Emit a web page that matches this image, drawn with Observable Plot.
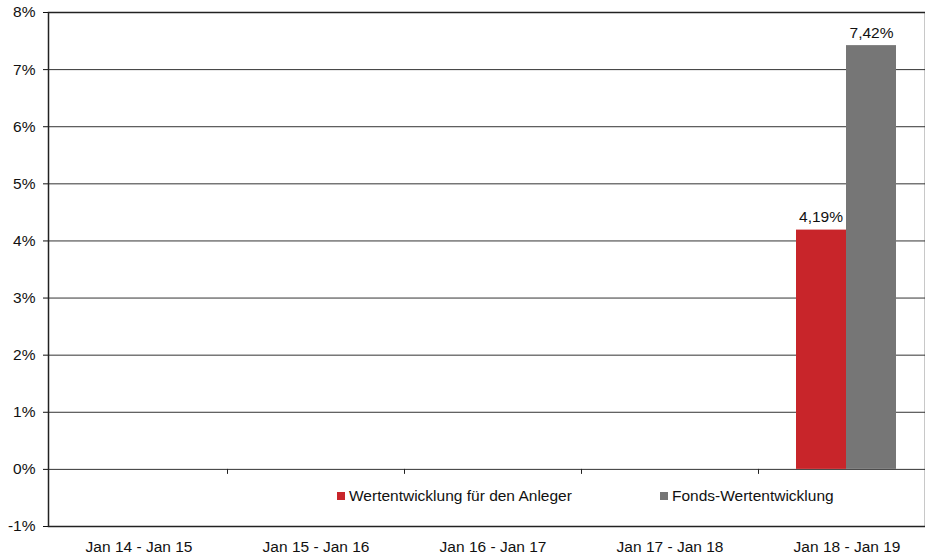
<!DOCTYPE html>
<html><head><meta charset="utf-8">
<script src="https://cdn.jsdelivr.net/npm/d3@7"></script>
<script src="https://cdn.jsdelivr.net/npm/@observablehq/plot@0.6"></script>
<style>
body{margin:0;background:#fff;font-family:"Liberation Sans",Arial,sans-serif;}
#wrap{position:relative;width:925px;height:555px;overflow:hidden;}
.item{position:absolute;top:487px;display:flex;align-items:center;font-size:15.5px;line-height:18px;color:#111;white-space:nowrap;}
.sw{width:8px;height:8px;margin-right:4px;display:inline-block;}
</style></head><body><div id="wrap"></div>
<script>
const periods = ["Jan 14 - Jan 15","Jan 15 - Jan 16","Jan 16 - Jan 17","Jan 17 - Jan 18","Jan 18 - Jan 19"];
const seriesNames = ["Wertentwicklung für den Anleger","Fonds-Wertentwicklung"];
const anlegerValues = [null,null,null,null,4.19];
const fondsValues = [null,null,null,null,7.42];
const yTicks = [-1,0,1,2,3,4,5,6,7,8];
const colors = ["#c8252a","#767676"];

const rows = [];
periods.forEach((p,i)=>{
  if (anlegerValues[i] != null) rows.push({period:p, series:seriesNames[0], value:anlegerValues[i]});
  if (fondsValues[i] != null) rows.push({period:p, series:seriesNames[1], value:fondsValues[i]});
});
const fmt = d => d.value.toFixed(2).replace(".", ",") + "%";

function boundaryTicks(index, scales) {
  const {x, y} = scales;
  const g = d3.create("svg:g").attr("stroke", "#222").attr("stroke-width", 1);
  for (const p of periods.slice(1)) {
    const px = Math.round(x(p)) + 0.5;
    g.append("line").attr("x1", px).attr("x2", px).attr("y1", y(0)).attr("y2", y(0) + 5);
  }
  return g.node();
}

const chart = Plot.plot({
  width: 925, height: 555,
  marginTop: 12, marginBottom: 29, marginLeft: 48, marginRight: 0,
  style: {fontFamily: "Liberation Sans, Arial, sans-serif", fontSize: "15.5px", color: "#111", background: "white", overflow: "hidden"},
  x: {type: "band", domain: periods, range: [48, 937], padding: 0, tickSize: 0, tickPadding: 14, label: null},
  y: {domain: [-1, 8], ticks: yTicks, tickFormat: d => d + "%", tickSize: 5, tickPadding: 8, label: null},
  marks: [
    Plot.ruleY(yTicks, {stroke: "#333", strokeWidth: 1}),
    Plot.frame({stroke: "#222", strokeWidth: 1.5}),
    boundaryTicks,
    Plot.barY(rows.filter(d => d.series === seriesNames[0]), {x: "period", y: "value", fill: colors[0], insetLeft: 38, insetRight: 89}),
    Plot.barY(rows.filter(d => d.series === seriesNames[1]), {x: "period", y: "value", fill: colors[1], insetLeft: 88, insetRight: 39}),
    Plot.text(rows.filter(d => d.series === seriesNames[0]), {x: "period", y: "value", text: fmt, dx: -26, dy: -8, lineAnchor: "bottom", fill: "#111", fontSize: 15.5}),
    Plot.text(rows.filter(d => d.series === seriesNames[1]), {x: "period", y: "value", text: fmt, dx: 24.5, dy: -8, lineAnchor: "bottom", fill: "#111", fontSize: 15.5})
  ]
});
const wrap = document.getElementById("wrap");
wrap.appendChild(chart);
const lefts = [337, 660];
seriesNames.forEach((s, i) => {
  const it = document.createElement("div");
  it.className = "item";
  it.style.left = lefts[i] + "px";
  it.innerHTML = `<span class="sw" style="background:${colors[i]}"></span><span>${s}</span>`;
  wrap.appendChild(it);
});
</script>
</body></html>
